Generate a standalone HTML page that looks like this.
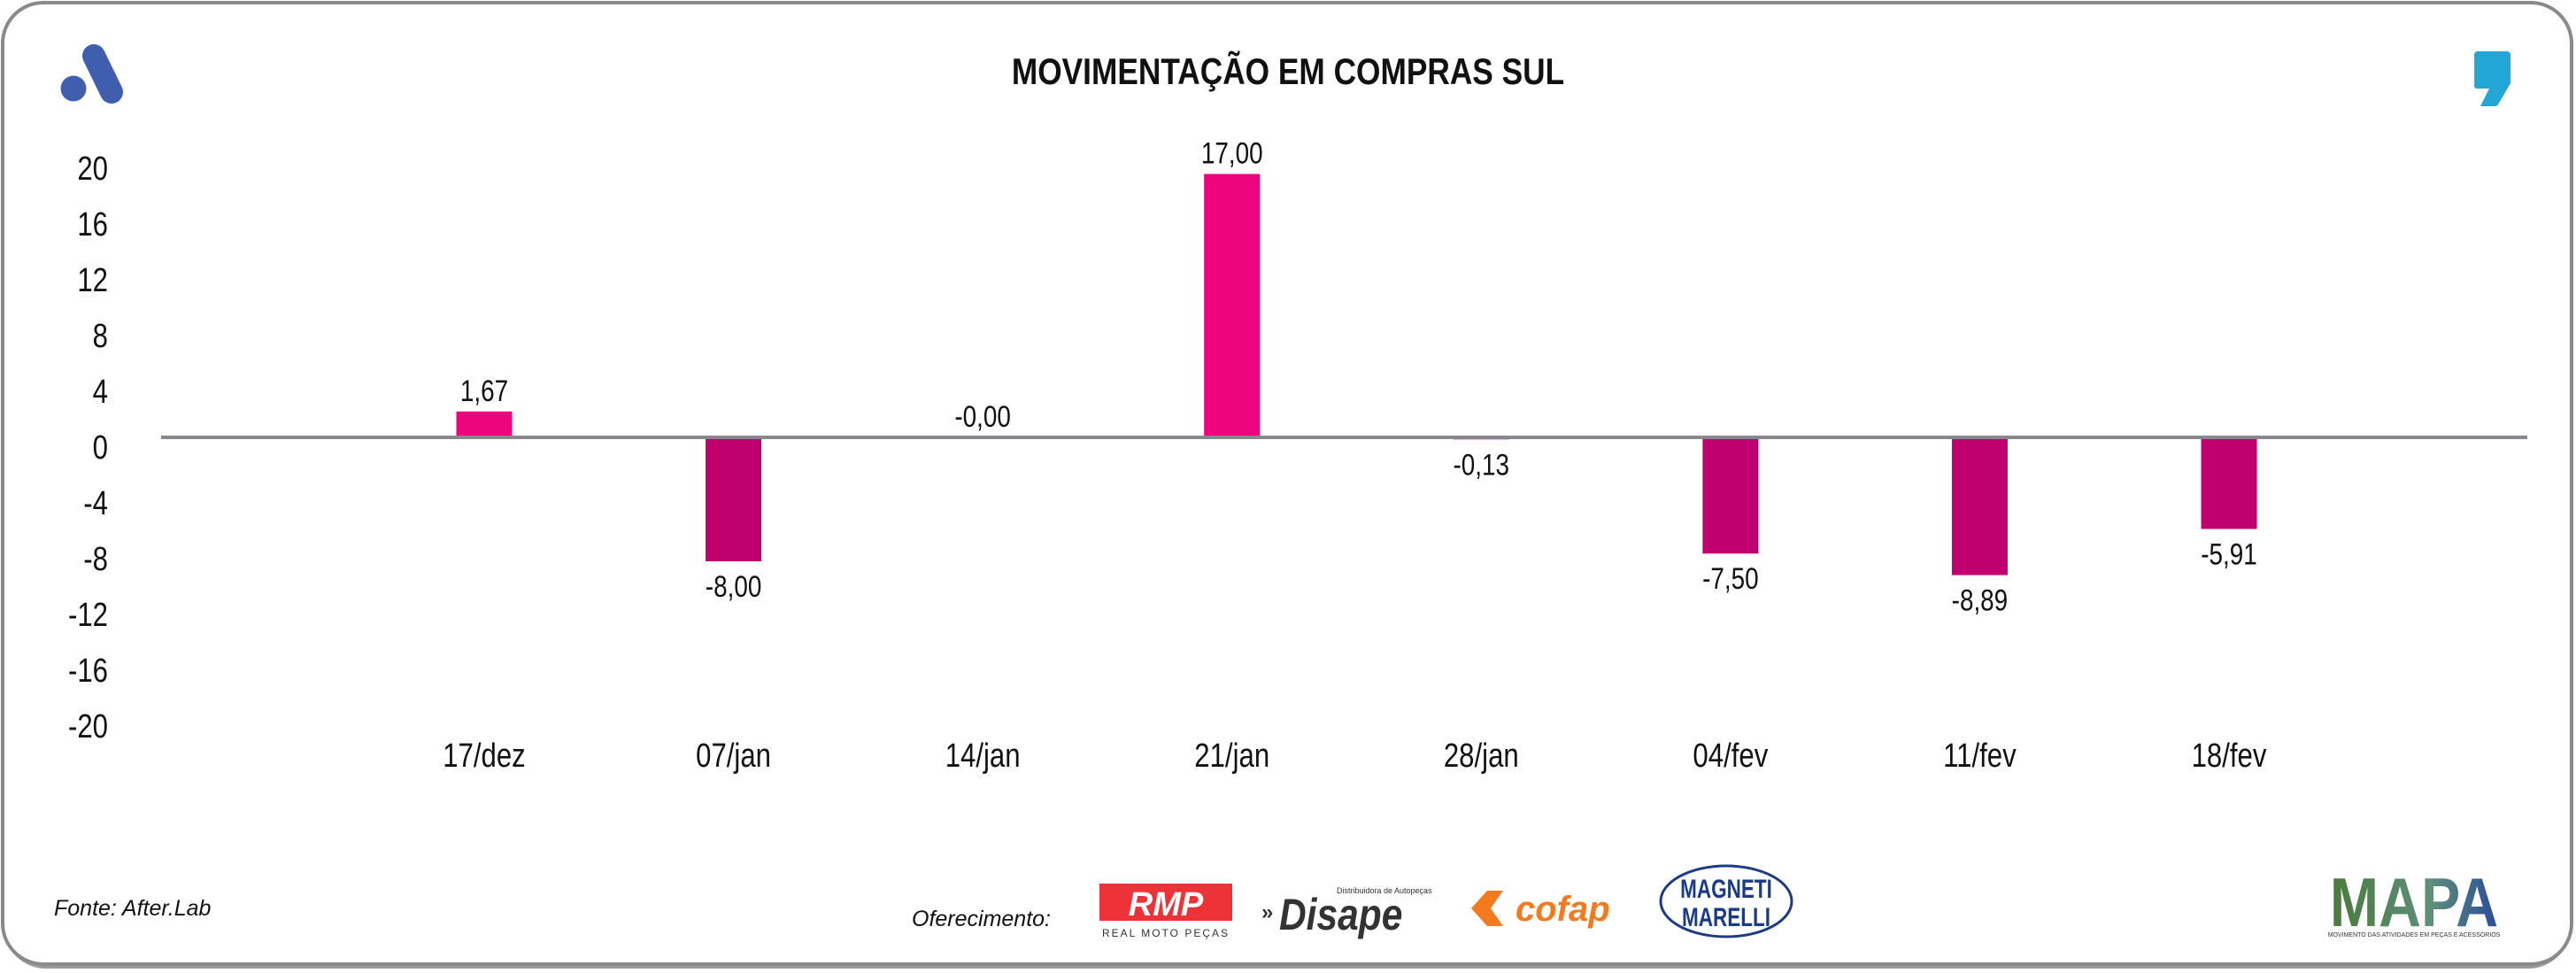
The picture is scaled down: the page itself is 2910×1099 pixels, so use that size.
<!DOCTYPE html>
<html><head><meta charset="utf-8">
<style>
html,body{margin:0;padding:0;background:#fff;}
body{width:2910px;height:1099px;overflow:hidden;position:relative;font-family:"Liberation Sans",sans-serif;}
svg{position:absolute;left:0;top:0;}
</style></head>
<body>
<svg id="chart" width="2910" height="1099" viewBox="0 0 2910 1099">
  <rect x="4" y="8" width="2900" height="1086" rx="48" fill="#9a9a9a"/>
  <rect x="3" y="3" width="2902" height="1086" rx="46" fill="#fff" stroke="#8a8a8d" stroke-width="4"/>
  <g>
    <line x1="106" y1="63" x2="126" y2="104" stroke="#3f5fae" stroke-width="26" stroke-linecap="round"/>
    <circle cx="83" cy="100" r="14.5" fill="#3f5fae"/>
  </g>
  <path d="M2796 58 h36 a4 4 0 0 1 4 4 v32 l-14 24 a4 4 0 0 1 -4 2 h-16 l10 -20 h-14 a3 3 0 0 1 -3 -3 v-35 a4 4 0 0 1 4 -4 z" fill="#22a6d6"/>
  <text x="1455" y="95" text-anchor="middle" font-size="42" font-weight="bold" fill="#111" transform="translate(1455 0) scale(0.84 1) translate(-1455 0)">MOVIMENTAÇÃO EM COMPRAS SUL</text>
  <g id="yaxis"></g>
  <g id="bars"></g>
  <g id="xaxis"></g>
  <text x="61" y="1034" font-size="25" font-style="italic" fill="#111">Fonte: After.Lab</text>
  <text x="1030" y="1046" font-size="25" font-style="italic" fill="#111">Oferecimento:</text>
  <g>
    <rect x="1242" y="998" width="150" height="42" fill="#ee3338"/>
    <text x="1317" y="1034" text-anchor="middle" font-size="38" font-weight="bold" font-style="italic" fill="#fff">RMP</text>
    <text x="1317" y="1058" text-anchor="middle" font-size="12" fill="#333" letter-spacing="2">REAL MOTO PEÇAS</text>
  </g>
  <g>
    <text x="1425" y="1038" font-size="24" font-weight="bold" fill="#333">»</text>
    <text x="1445" y="1050" font-size="50" font-weight="bold" font-style="italic" fill="#333" transform="translate(1445 0) scale(0.85 1) translate(-1445 0)">Disape</text>
    <text x="1510" y="1009" font-size="9" fill="#333">Distribuidora de Autopeças</text>
  </g>
  <g>
    <path d="M1662 1026 l18 -20 h18 l-14 20 l14 20 h-18 z" fill="#f47a20"/>
    <text x="1712" y="1040" font-size="40" font-weight="bold" font-style="italic" fill="#f47a20">cofap</text>
  </g>
  <g>
    <ellipse cx="1950" cy="1018" rx="74" ry="40" fill="none" stroke="#1b3b86" stroke-width="3"/>
    <text x="1950" y="1014" text-anchor="middle" font-size="30" font-weight="bold" fill="#1b3b86" transform="translate(1950 0) scale(0.75 1) translate(-1950 0)">MAGNETI</text>
    <text x="1950" y="1046" text-anchor="middle" font-size="30" font-weight="bold" fill="#1b3b86" transform="translate(1950 0) scale(0.75 1) translate(-1950 0)">MARELLI</text>
  </g>
  <g>
    <defs><linearGradient id="mg" x1="0" x2="1"><stop offset="0" stop-color="#4a7a3a"/><stop offset="0.6" stop-color="#5f8f7a"/><stop offset="1" stop-color="#2a4c9a"/></linearGradient></defs>
    <text x="2727" y="1046" text-anchor="middle" font-size="78" font-weight="bold" fill="url(#mg)" transform="translate(2727 0) scale(0.85 1) translate(-2727 0)">MAPA</text>
    <text x="2727" y="1058" text-anchor="middle" font-size="7" fill="#333">MOVIMENTO DAS ATIVIDADES EM PEÇAS E ACESSÓRIOS</text>
  </g>
</svg>
<script>
const categories = ["17/dez","07/jan","14/jan","21/jan","28/jan","04/fev","11/fev","18/fev"];
const values = [1.67,-8.00,-0.001,17.00,-0.13,-7.50,-8.89,-5.91];
const valueLabels = ["1,67","-8,00","-0,00","17,00","-0,13","-7,50","-8,89","-5,91"];
const yTicks = [20,16,12,8,4,0,-4,-8,-12,-16,-20];

const NS = "http://www.w3.org/2000/svg";
const zeroY = 494, unitPx = 17.5;
const yScale = v => zeroY - v * unitPx;
const xFirst = 547, xLast = 2518;
const xScale = i => xFirst + i * (xLast - xFirst) / (categories.length - 1);
const tickY = v => 190 + (20 - v) / 4 * 63;
const barW = 63;
function mk(tag, attrs, parent){const e=document.createElementNS(NS,tag);for(const k in attrs)e.setAttribute(k,attrs[k]);parent.appendChild(e);return e;}
function condense(e, x){e.setAttribute('transform','translate('+x+' 0) scale(0.82 1) translate('+(-x)+' 0)');}

const ya = document.getElementById('yaxis');
yTicks.forEach(t => {
  const e = mk('text',{x:122,y:tickY(t)+13,'text-anchor':'end','font-size':38,fill:'#111'},ya);
  condense(e,122);
  
  
  e.textContent = String(t);
});

const bg = document.getElementById('bars');
values.forEach((v,i) => {
  const cx = xScale(i);
  const y0 = yScale(Math.max(v,0)), y1 = yScale(Math.min(v,0));
  const r = mk('rect',{x:cx-barW/2,y:y0,width:barW,height:Math.max(y1-y0,0),fill:v>=0?'#ec047c':'#c0006e'},bg);
  
  
  const above = v > -0.05;
  const ly = above ? y0 - 12 : y1 + 40;
  const t = mk('text',{x:cx,y:ly,'text-anchor':'middle','font-size':34,fill:'#111'},bg);
  condense(t,cx);
  
  
  t.textContent = valueLabels[i];
});
const axis = mk('line',{x1:182,x2:2855,y1:zeroY,y2:zeroY,stroke:'#88888c','stroke-width':4},bg);



const xa = document.getElementById('xaxis');
categories.forEach((c,i) => {
  const e = mk('text',{x:xScale(i),y:866,'text-anchor':'middle','font-size':38,fill:'#111'},xa);
  condense(e,xScale(i));
  
  
  e.textContent = c;
});
</script>
</body></html>
